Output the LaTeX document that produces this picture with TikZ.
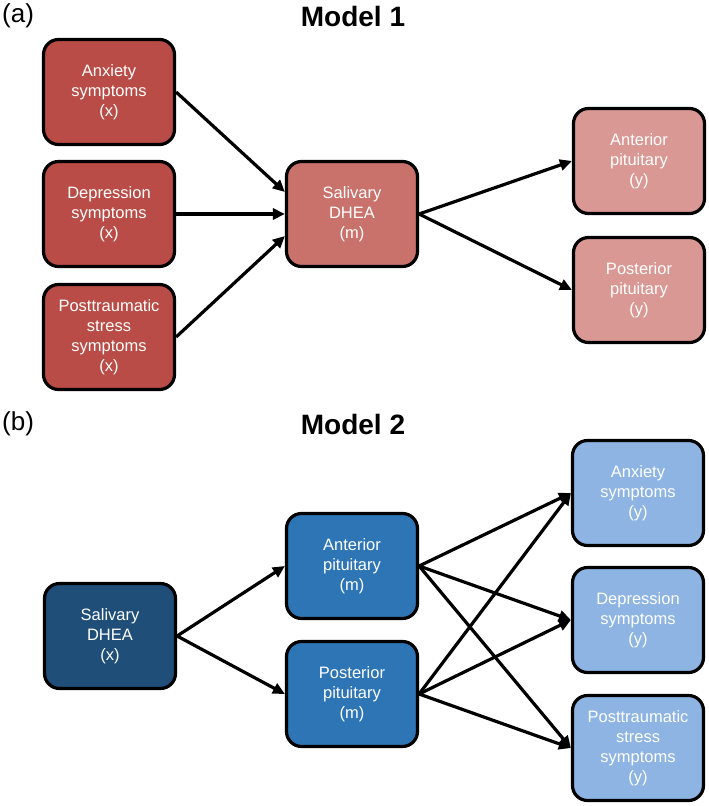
\documentclass[tikz,border=0pt]{standalone}
\usepackage{fontspec}
\setmainfont{Liberation Sans}
\usetikzlibrary{arrows.meta}

\definecolor{xred}{RGB}{185,76,70}
\definecolor{mred}{RGB}{201,113,107}
\definecolor{yred}{RGB}{218,152,148}
\definecolor{xblue}{RGB}{31,78,121}
\definecolor{mblue}{RGB}{46,117,182}
\definecolor{yblue}{RGB}{141,180,226}

\begin{document}
\begin{tikzpicture}[x=1pt,y=-1pt,
  box/.style={draw=black,line width=3.2pt,rounded corners=15pt,
    minimum width=131pt,minimum height=105pt,align=center,
    text=white,font=\fontsize{16.5}{20}\selectfont},
  arr/.style={line width=3.2pt,-{Triangle[length=12pt,width=11pt]}},
  tag/.style={font=\fontsize{26}{30}\selectfont,anchor=west,inner sep=0pt},
  title/.style={font=\fontsize{28}{32}\selectfont\bfseries,inner sep=0pt}]
\useasboundingbox (0,0) rectangle (709,806);

% Model 1
\node[tag] (taga) at (2,16) {(a)};
\node[title] (titlea) at (353,16) {Model 1};
\node[box,fill=xred] (anxa) at (109,92) {Anxiety\\symptoms\\(x)};
\node[box,fill=xred] (depa) at (109,214) {Depression\\symptoms\\(x)};
\node[box,fill=xred] (ptsa) at (109,337) {Posttraumatic\\stress\\symptoms\\(x)};
\node[box,fill=mred] (dheam) at (352,214) {Salivary\\DHEA\\(m)};
\node[box,fill=yred] (anty) at (639,161) {Anterior\\pituitary\\(y)};
\node[box,fill=yred] (posty) at (639,290) {Posterior\\pituitary\\(y)};

\draw[arr] (anxa.east) -- ([yshift=22pt]dheam.west);
\draw[arr] (depa.east) -- (dheam.west);
\draw[arr] (ptsa.east) -- ([yshift=-22pt]dheam.west);
\draw[arr] (dheam.east) -- (anty.west);
\draw[arr] (dheam.east) -- (posty.west);

% Model 2
\node[tag] (tagb) at (2,424) {(b)};
\node[title] (titleb) at (353,424) {Model 2};
\node[box,fill=xblue] (dheax) at (110,636) {Salivary\\DHEA\\(x)};
\node[box,fill=mblue] (antm) at (352,566) {Anterior\\pituitary\\(m)};
\node[box,fill=mblue] (postm) at (352,694) {Posterior\\pituitary\\(m)};
\node[box,fill=yblue] (anxy) at (638,493) {Anxiety\\symptoms\\(y)};
\node[box,fill=yblue] (depy) at (638,620) {Depression\\symptoms\\(y)};
\node[box,fill=yblue] (ptsy) at (638,748) {Posttraumatic\\stress\\symptoms\\(y)};

\draw[arr] (dheax.east) -- (antm.west);
\draw[arr] (dheax.east) -- (postm.west);
\foreach \s in {antm,postm}{
  \foreach \t in {anxy,depy,ptsy}{
    \draw[arr] (\s.east) -- (\t.west);}}
\end{tikzpicture}
\end{document}
